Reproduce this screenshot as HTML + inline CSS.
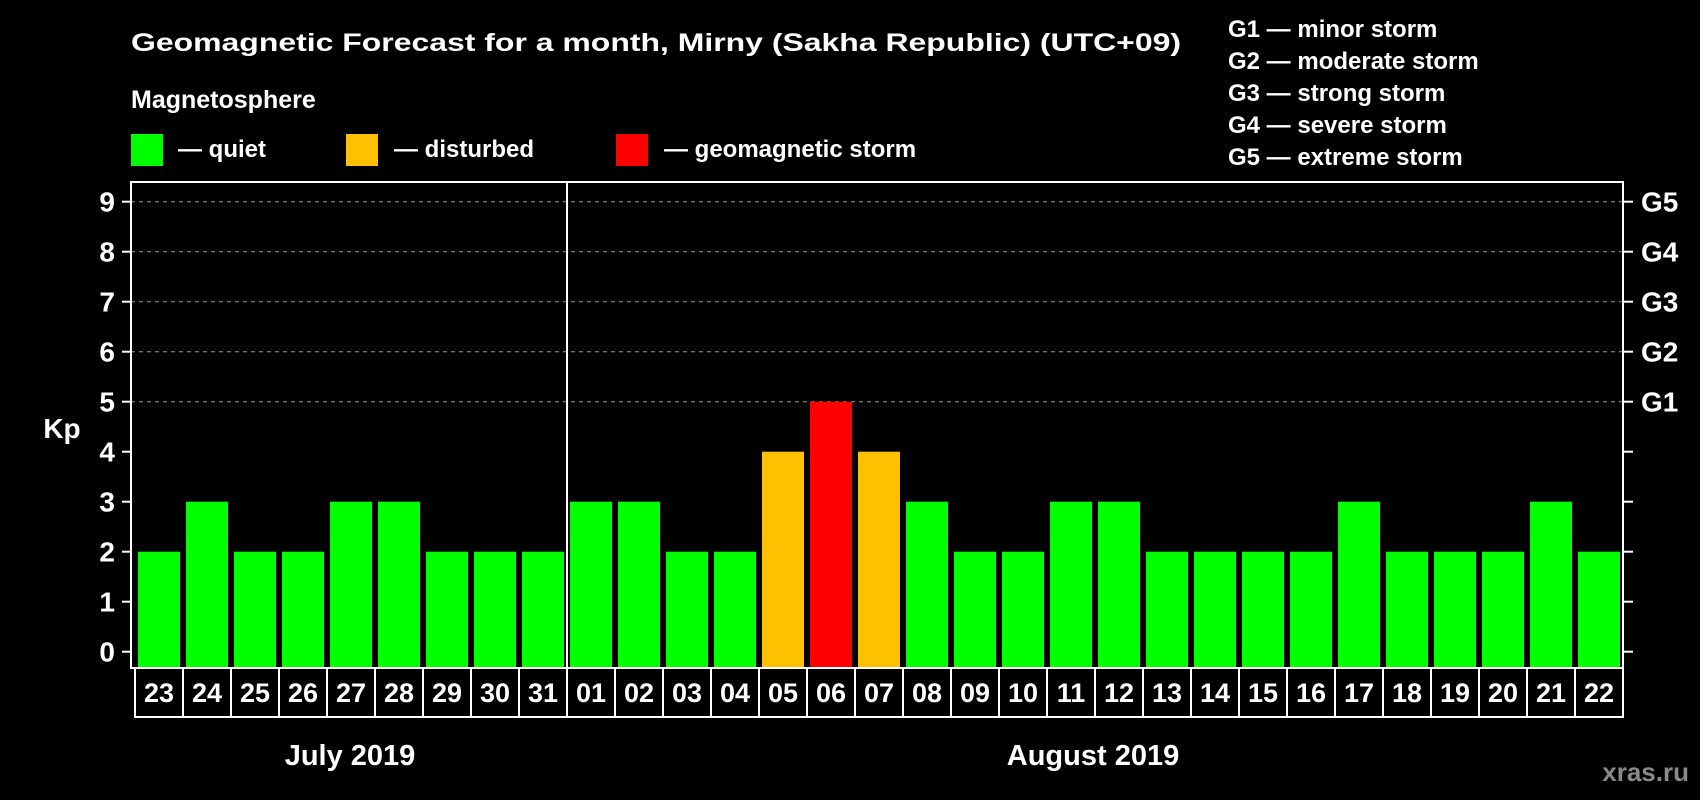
<!DOCTYPE html>
<html><head><meta charset="utf-8"><style>
html,body{margin:0;padding:0;background:#000;}
svg{display:block;font-family:"Liberation Sans",Arial,sans-serif;font-weight:bold;}
</style></head><body>
<svg id="chart" width="1700" height="800" viewBox="0 0 1700 800">
<rect x="0" y="0" width="1700" height="800" fill="#000"/>
<text x="131" y="51" font-size="25" fill="#fff" textLength="1050" lengthAdjust="spacingAndGlyphs">Geomagnetic Forecast for a month, Mirny (Sakha Republic) (UTC+09)</text>
<text x="131" y="108" font-size="25" fill="#fff">Magnetosphere</text>
<g><rect x="131" y="134" width="32" height="32" fill="#00ff00"/><text x="178" y="157" font-size="24" fill="#fff">— quiet</text></g>
<g><rect x="346" y="134" width="32" height="32" fill="#ffc000"/><text x="394" y="157" font-size="24" fill="#fff">— disturbed</text></g>
<g><rect x="616" y="134" width="32" height="32" fill="#ff0000"/><text x="664" y="157" font-size="24" fill="#fff">— geomagnetic storm</text></g>
<g font-size="24" fill="#fff">
<text x="1228" y="37">G1 — minor storm</text>
<text x="1228" y="69">G2 — moderate storm</text>
<text x="1228" y="101">G3 — strong storm</text>
<text x="1228" y="133">G4 — severe storm</text>
<text x="1228" y="165">G5 — extreme storm</text>
</g>
<text x="62" y="438" font-size="28" fill="#fff" text-anchor="middle">Kp</text>
<text x="350" y="765" font-size="29" fill="#fff" text-anchor="middle">July 2019</text>
<text x="1093" y="765" font-size="29" fill="#fff" text-anchor="middle">August 2019</text>
<text x="1689" y="781" font-size="26" fill="#8a8a8a" text-anchor="end">xras.ru</text>
<g id="plot"></g>
</svg>
<script>
const days = ["23","24","25","26","27","28","29","30","31","01","02","03","04","05","06","07","08","09","10","11","12","13","14","15","16","17","18","19","20","21","22"];
const kpValues = [2,3,2,2,3,3,2,2,2,3,3,2,2,4,5,4,3,2,2,3,3,2,2,2,2,3,2,2,2,3,2];
const yTicks = [0,1,2,3,4,5,6,7,8,9];
const stormLabels = ["G1","G2","G3","G4","G5"];
const stormLevels = [5,6,7,8,9];
const monthBreakIndex = 9;

const NS = "http://www.w3.org/2000/svg";
const plot = document.getElementById("plot");
const PL = 131, PR = 1623, PT = 182, PB = 668;
const X0 = 135, STEP = 48, BW = 42;
const Y0 = 651.7, YU = 50;
const y = v => Y0 - v * YU;
const xSlot = i => X0 + i * STEP;
function mk(tag, attrs, parent) {
  const e = document.createElementNS(NS, tag);
  for (const k in attrs) e.setAttribute(k, attrs[k]);
  (parent || plot).appendChild(e);
  return e;
}
// grid lines
stormLevels.forEach(v => {
  const l = mk("line", {x1: PL, x2: PR, y1: y(v), y2: y(v), stroke: "#9a9a9a", "stroke-width": 1, "stroke-dasharray": "4,4"});
  
  
});
// bars
kpValues.forEach((v, i) => {
  const col = v >= 5 ? "#ff0000" : (v >= 4 ? "#ffc000" : "#00ff00");
  const r = mk("rect", {x: xSlot(i) + 3, y: y(v), width: BW, height: PB - 1 - y(v), fill: col});
  
  
});
// frame
const fr = mk("rect", {x: PL, y: PT, width: PR - PL, height: PB - PT, fill: "none", stroke: "#fff", "stroke-width": 2});


// month divider
const md = mk("line", {x1: xSlot(monthBreakIndex), x2: xSlot(monthBreakIndex), y1: PT, y2: 717, stroke: "#fff", "stroke-width": 2});


// y ticks
yTicks.forEach(v => {
  const t = mk("line", {x1: 122, x2: PL, y1: y(v), y2: y(v), stroke: "#fff", "stroke-width": 2});
  
  
  const t2 = mk("line", {x1: PR, x2: PR + 10, y1: y(v), y2: y(v), stroke: "#fff", "stroke-width": 2});
  
  
  const lb = mk("text", {x: 115, y: y(v) + 10, "font-size": 28, fill: "#fff", "text-anchor": "end"});
  lb.textContent = v;
  
  
});
stormLabels.forEach((s, i) => {
  const lb = mk("text", {x: 1641, y: y(stormLevels[i]) + 10, "font-size": 28, fill: "#fff"});
  lb.textContent = s;
  
  
});
// date boxes
const db = mk("rect", {x: X0, y: PB, width: days.length * STEP, height: 49, fill: "none", stroke: "#fff", "stroke-width": 2});


days.forEach((d, i) => {
  if (i > 0) {
    const s = mk("line", {x1: xSlot(i), x2: xSlot(i), y1: PB, y2: 717, stroke: "#fff", "stroke-width": 2});
    
    
  }
  const t = mk("text", {x: xSlot(i) + STEP / 2, y: 702, "font-size": 27, fill: "#fff", "text-anchor": "middle"});
  t.textContent = d;
  
  
});
</script>
</body></html>
